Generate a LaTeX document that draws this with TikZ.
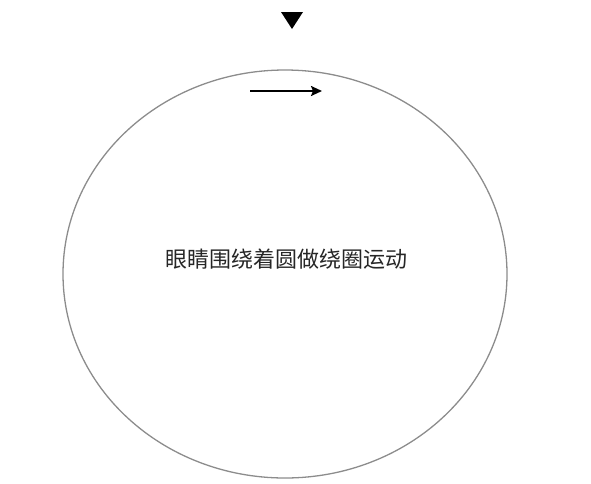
\documentclass[tikz,border=0pt]{standalone}
\usepackage{fontspec}
\newfontfamily\cjk{Noto Sans CJK SC}
\usetikzlibrary{shapes.geometric, arrows.meta}

\begin{document}
\begin{tikzpicture}[x=1pt, y=-1pt,
    orbit/.style={ellipse, draw=black!45, line width=1.3pt, minimum width=444pt, minimum height=408pt, inner sep=0pt},
    caption/.style={font=\cjk\fontsize{22}{26}\selectfont, text=black!85, inner sep=0pt}]
    \useasboundingbox (0,0) rectangle (591,483);

    \node[orbit] (eye) at (285,274) {};
    \node[caption] (label) at (286,259) {眼睛围绕着圆做绕圈运动};

    % start mark and direction of motion
    \fill (281,12) -- (303,12) -- (292,29) -- cycle;
    \coordinate (from) at (250,91);
    \coordinate (to) at (322,91);
    \draw[line width=2pt, -{Stealth[length=11pt, width=10pt, inset=2pt]}] (from) -- (to);
\end{tikzpicture}
\end{document}
